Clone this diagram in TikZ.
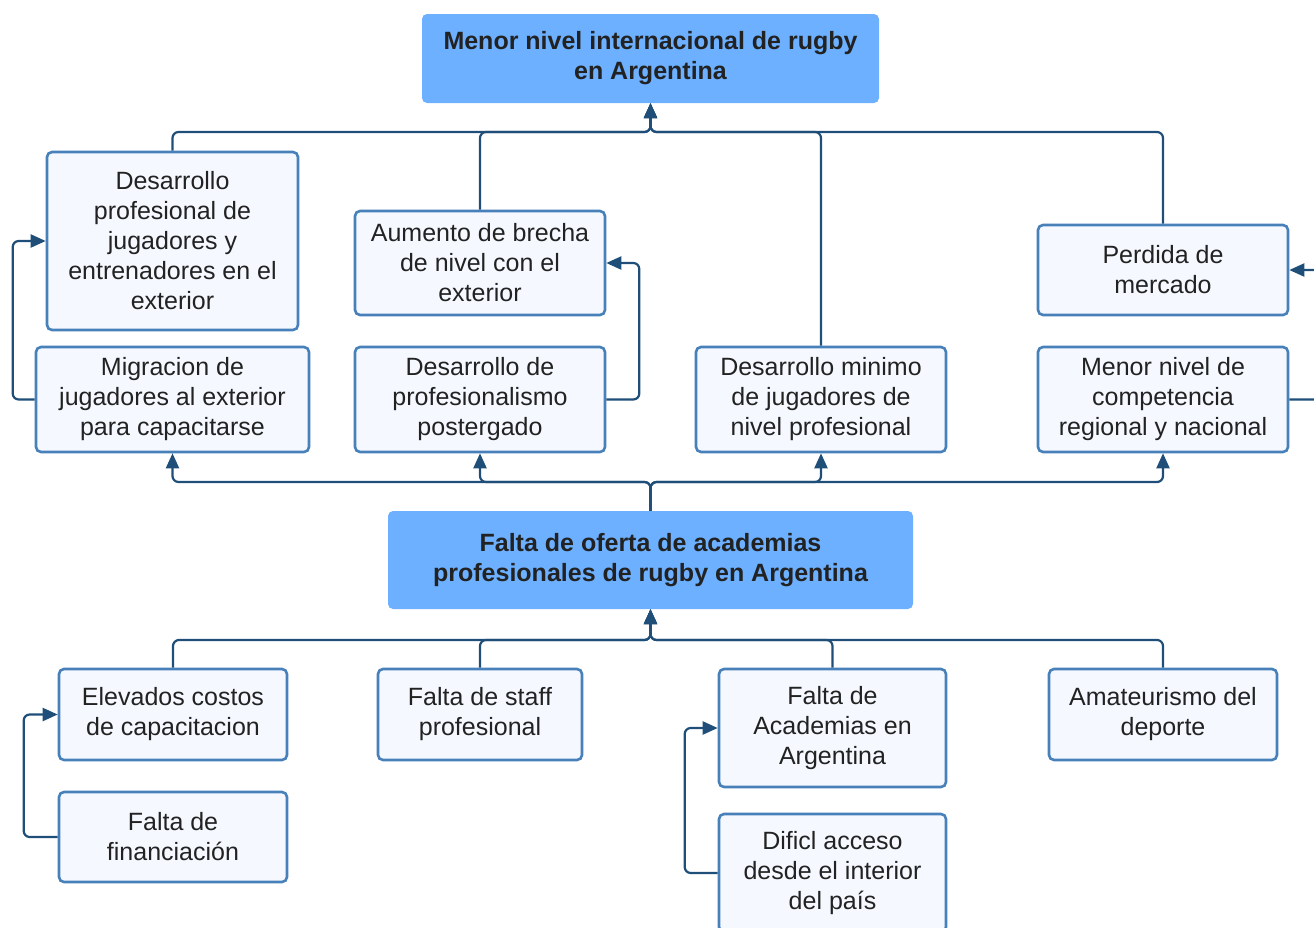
\documentclass[tikz,border=0pt]{standalone}
\usepackage{fontspec}
\setmainfont{Liberation Sans}
\usetikzlibrary{shapes,arrows,arrows.meta}

\begin{document}
\begin{tikzpicture}[x=1pt,y=-1pt,
  caja/.style={draw=boxLine,fill=boxFill,line width=2.6pt,rounded corners=5pt,align=center,inner sep=0pt,text=txtColor,font=\fontsize{25}{30}\selectfont},
  cajaMain/.style={fill=mainFill,rounded corners=5pt,align=center,inner sep=0pt,text=txtColor,font=\fontsize{25}{30}\selectfont\bfseries},
  flecha/.style={-{Triangle[length=15pt,width=13pt]},line width=2.2pt,color=arrColor,rounded corners=6pt}]
\definecolor{boxLine}{RGB}{72,128,186}
\definecolor{boxFill}{RGB}{245,249,255}
\definecolor{mainFill}{RGB}{108,176,255}
\definecolor{arrColor}{RGB}{31,78,121}
\definecolor{txtColor}{RGB}{34,34,34}
\useasboundingbox (0,0) rectangle (1314,927);
\node[cajaMain,minimum width=457pt,minimum height=89pt] (top) at (650.5,58.5) {Menor nivel internacional de rugby\\en Argentina};
\node[caja,minimum width=251pt,minimum height=178pt] (dpro) at (172.5,241) {Desarrollo\\profesional de\\jugadores y\\entrenadores en el\\exterior};
\node[caja,minimum width=250pt,minimum height=104pt] (aum) at (480,263) {Aumento de brecha\\de nivel con el\\exterior};
\node[caja,minimum width=250pt,minimum height=90pt] (perd) at (1163,270) {Perdida de\\mercado};
\node[caja,minimum width=273pt,minimum height=105pt] (migr) at (172.5,399.5) {Migracion de\\jugadores al exterior\\para capacitarse};
\node[caja,minimum width=250pt,minimum height=105pt] (dprof) at (480,399.5) {Desarrollo de\\profesionalismo\\postergado};
\node[caja,minimum width=250pt,minimum height=105pt] (dmin) at (821,399.5) {Desarrollo minimo\\de jugadores de\\nivel profesional};
\node[caja,minimum width=250pt,minimum height=105pt] (menor) at (1163,399.5) {Menor nivel de\\competencia\\regional y nacional};
\node[cajaMain,minimum width=525pt,minimum height=98pt] (falta) at (650.5,560) {Falta de oferta de academias\\profesionales de rugby en Argentina};
\node[caja,minimum width=228pt,minimum height=91pt] (elev) at (173,714.5) {Elevados costos\\de capacitacion};
\node[caja,minimum width=204pt,minimum height=91pt] (staff) at (480,714.5) {Falta de staff\\profesional};
\node[caja,minimum width=227pt,minimum height=118pt] (acad) at (832.5,728) {Falta de\\Academias en\\Argentina};
\node[caja,minimum width=228pt,minimum height=91pt] (amat) at (1163,714.5) {Amateurismo del\\deporte};
\node[caja,minimum width=228pt,minimum height=90pt] (finan) at (173,837) {Falta de\\financiación};
\node[caja,minimum width=227pt,minimum height=118pt] (dific) at (832.5,873) {Dificl acceso\\desde el interior\\del país};
\coordinate (jtop) at (650.5,132);
\coordinate (jmid) at (650.5,482);
\coordinate (jbot) at (650.5,640);
\foreach \n in {dpro,aum,dmin,perd}
  \draw[flecha] (\n.north) |- (jtop) -- (top.south);
\foreach \n in {migr,dprof,dmin,menor}
  \draw[flecha] (falta.north) -- (jmid) -| (\n.south);
\foreach \n in {elev,staff,acad,amat}
  \draw[flecha] (\n.north) |- (jbot) -- (falta.south);
\draw[flecha] (migr.west) -- ++(-22,0) |- (dpro.west);
\draw[flecha] (dprof.east) -- ++(33,0) |- (aum.east);
\draw[flecha] (menor.east) -- ++(40,0) |- (perd.east);
\draw[flecha] (finan.west) -- ++(-34,0) |- (elev.west);
\draw[flecha] (dific.west) -- ++(-33,0) |- (acad.west);
\end{tikzpicture}
\end{document}
